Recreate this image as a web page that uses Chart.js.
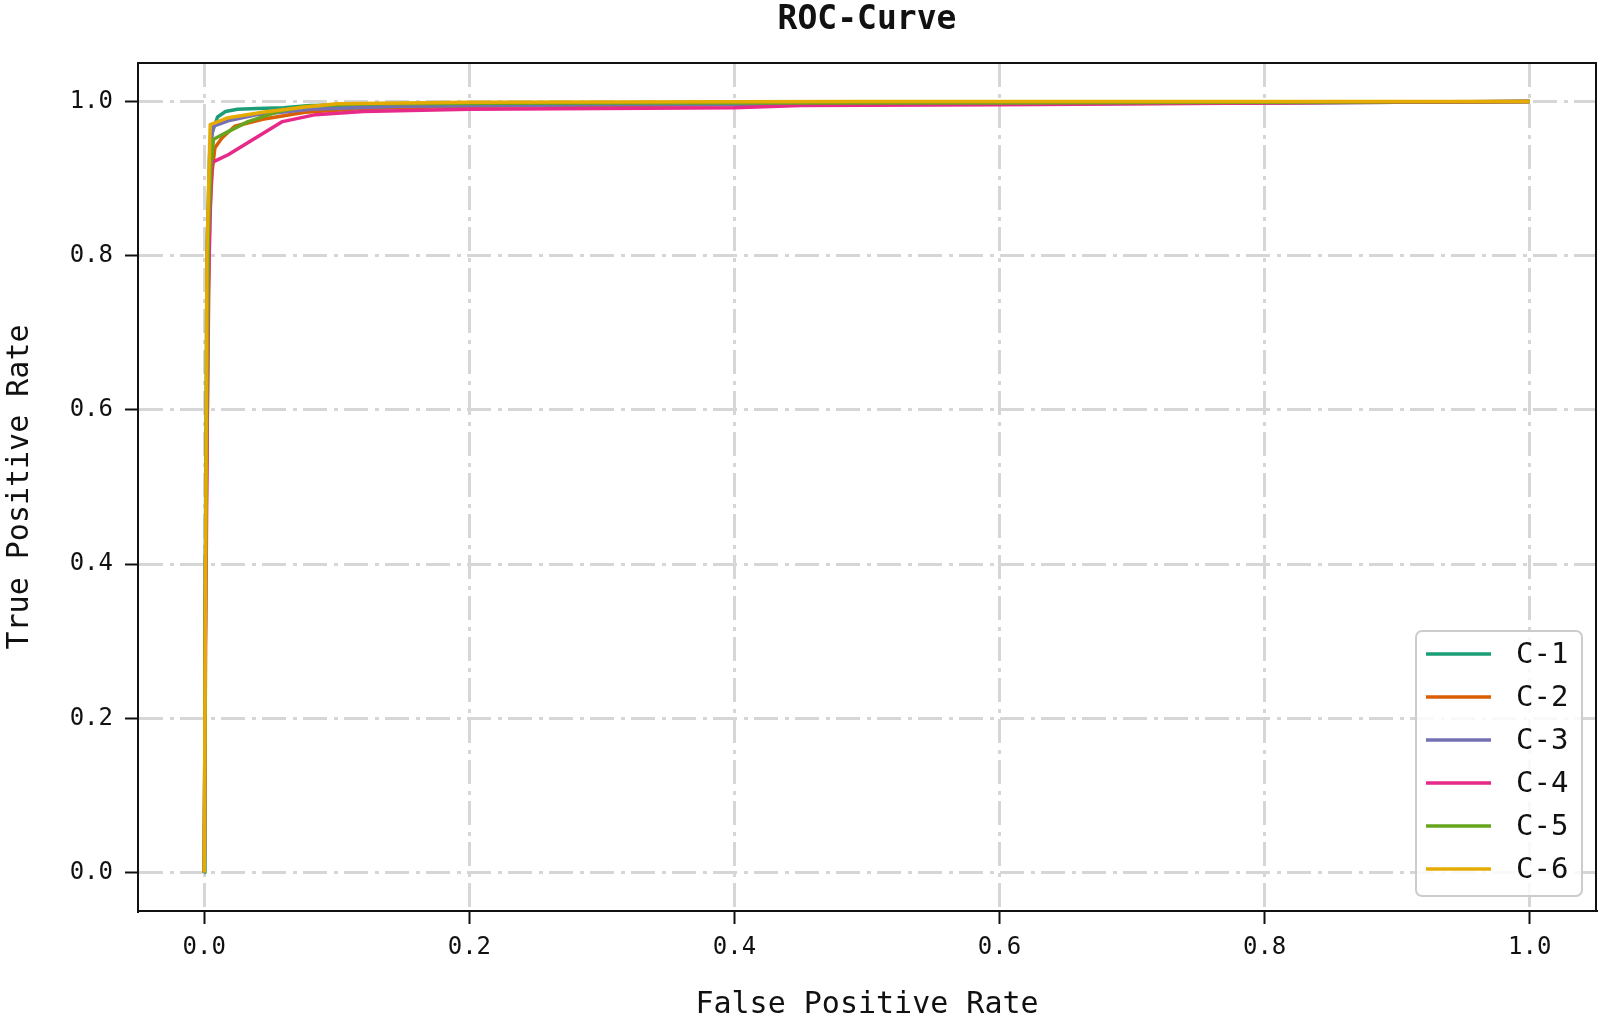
<!DOCTYPE html>
<html>
<head>
<meta charset="utf-8">
<script src="https://cdn.jsdelivr.net/npm/chart.js@4.4.1/dist/chart.umd.min.js"></script>
<style>
  html, body { margin: 0; padding: 0; background: #ffffff; }
  canvas { display: block; }
</style>
</head>
<body>
<canvas id="c" width="1604" height="1020"></canvas>
<script>
// ---- data ----
const seriesNames = ['C-1', 'C-2', 'C-3', 'C-4', 'C-5', 'C-6'];
const seriesColors = ['#1b9e77', '#d95f02', '#7570b3', '#e7298a', '#66a61e', '#e6ab02'];

const fpr1 = [0, 0.0005, 0.002, 0.004, 0.006, 0.010, 0.016, 0.025, 0.040, 0.060, 0.080, 0.150, 0.400, 0.600, 0.800, 1.0];
const tpr1 = [0, 0.30, 0.80, 0.93, 0.96, 0.980, 0.987, 0.990, 0.991, 0.992, 0.995, 0.996, 0.997, 0.997, 0.998, 1.0];

const fpr2 = [0, 0.001, 0.004, 0.006, 0.008, 0.0135, 0.023, 0.044, 0.076, 0.120, 0.200, 0.400, 0.700, 1.0];
const tpr2 = [0, 0.40, 0.85, 0.91, 0.940, 0.953, 0.968, 0.977, 0.986, 0.991, 0.994, 0.996, 0.998, 1.0];

const fpr3 = [0, 0.001, 0.003, 0.005, 0.007, 0.018, 0.040, 0.080, 0.150, 0.300, 0.600, 1.0];
const tpr3 = [0, 0.40, 0.85, 0.95, 0.968, 0.975, 0.983, 0.990, 0.994, 0.996, 0.997, 1.0];

const fpr4 = [0, 0.001, 0.003, 0.005, 0.006, 0.018, 0.059, 0.084, 0.120, 0.200, 0.400, 0.450, 0.600, 0.800, 1.0];
const tpr4 = [0, 0.30, 0.75, 0.89, 0.921, 0.931, 0.974, 0.983, 0.987, 0.990, 0.992, 0.995, 0.996, 0.998, 1.0];

const fpr5 = [0, 0.001, 0.003, 0.005, 0.007, 0.018, 0.033, 0.056, 0.076, 0.120, 0.300, 0.600, 1.0];
const tpr5 = [0, 0.40, 0.82, 0.92, 0.951, 0.961, 0.974, 0.987, 0.994, 0.997, 0.998, 0.998, 1.0];

const fpr6 = [0, 0.001, 0.002, 0.004, 0.0045, 0.018, 0.044, 0.076, 0.100, 0.200, 0.500, 1.0];
const tpr6 = [0, 0.40, 0.80, 0.94, 0.970, 0.979, 0.986, 0.993, 0.997, 0.999, 1.0, 1.0];

const xTicks = [0, 0.2, 0.4, 0.6, 0.8, 1.0];
const yTicks = [0, 0.2, 0.4, 0.6, 0.8, 1.0];
const xTickLabels = ['0.0', '0.2', '0.4', '0.6', '0.8', '1.0'];
const yTickLabels = ['0.0', '0.2', '0.4', '0.6', '0.8', '1.0'];

const titleText = 'ROC-Curve';
const xTitle = 'False Positive Rate';
const yTitle = 'True Positive Rate';

// ---- build datasets ----
const fprs = [fpr1, fpr2, fpr3, fpr4, fpr5, fpr6];
const tprs = [tpr1, tpr2, tpr3, tpr4, tpr5, tpr6];
const datasets = seriesNames.map((name, i) => ({
  label: name,
  data: fprs[i].map((x, k) => ({ x: x, y: tprs[i][k] })),
  borderColor: seriesColors[i],
  backgroundColor: seriesColors[i],
  borderWidth: 3.5,
  showLine: true,
  pointRadius: 0,
  pointHoverRadius: 0,
  tension: 0,
  borderJoinStyle: 'round',
  fill: false,
  order: seriesNames.length - i
}));

const MONO = '"DejaVu Sans Mono", "Liberation Mono", monospace';

const bgPlugin = {
  id: 'bg',
  beforeDraw(chart) {
    const ctx = chart.ctx;
    ctx.save();
    ctx.fillStyle = '#ffffff';
    ctx.fillRect(0, 0, chart.width, chart.height);
    ctx.restore();
  }
};

const framePlugin = {
  id: 'frame',
  afterDatasetsDraw(chart) {
    const a = chart.chartArea;
    const ctx = chart.ctx;
    ctx.save();
    ctx.strokeStyle = '#111111';
    ctx.lineWidth = 2;
    ctx.strokeRect(a.left, a.top, a.right - a.left, a.bottom - a.top);
    ctx.restore();
  }
};

const legendPlugin = {
  id: 'boxLegend',
  afterDraw(chart) {
    const ctx = chart.ctx;
    const a = chart.chartArea;
    const n = chart.data.datasets.length;
    const rowH = 43;
    const boxW = 166, boxH = 265;
    const bx = a.right - 14 - boxW;
    const by = a.bottom - 15 - boxH;
    ctx.save();
    ctx.beginPath();
    if (ctx.roundRect) ctx.roundRect(bx, by, boxW, boxH, 6); else ctx.rect(bx, by, boxW, boxH);
    ctx.fillStyle = 'rgba(255,255,255,0.85)';
    ctx.fill();
    ctx.strokeStyle = '#cccccc';
    ctx.lineWidth = 2;
    ctx.stroke();
    ctx.font = '29px ' + MONO;
    ctx.textBaseline = 'middle';
    ctx.textAlign = 'left';
    for (let i = 0; i < n; i++) {
      const ds = chart.data.datasets[i];
      const cy = by + 23 + i * rowH;
      ctx.beginPath();
      ctx.moveTo(bx + 10, cy);
      ctx.lineTo(bx + 75, cy);
      ctx.strokeStyle = ds.borderColor;
      ctx.lineWidth = 3.5;
      ctx.stroke();
      ctx.fillStyle = '#111111';
      ctx.fillText(ds.label, bx + 100, cy + 1);
    }
    ctx.restore();
  }
};

const gridColor = '#d6d6d6';

new Chart(document.getElementById('c'), {
  type: 'scatter',
  data: { datasets: datasets },
  plugins: [bgPlugin, framePlugin, legendPlugin],
  options: {
    responsive: false,
    animation: false,
    events: [],
    layout: { padding: { left: 0, right: 8, top: 0, bottom: 0 } },
    plugins: {
      legend: { display: false },
      tooltip: { enabled: false },
      title: {
        display: true,
        fullSize: false,
        text: titleText,
        color: '#111111',
        font: { family: MONO, size: 33, weight: 'bold', lineHeight: 1.0 },
        padding: { top: 4, bottom: 26 }
      }
    },
    scales: {
      x: {
        type: 'linear',
        min: -0.05,
        max: 1.05,
        afterBuildTicks(scale) { scale.ticks = xTicks.map(v => ({ value: v })); },
        afterFit(scale) { scale.height = 109; },
        ticks: {
          autoSkip: false,
          maxRotation: 0,
          padding: 9,
          color: '#111111',
          font: { family: MONO, size: 24 },
          callback(value) { const i = xTicks.indexOf(value); return i >= 0 ? xTickLabels[i] : ''; }
        },
        grid: {
          color: gridColor,
          lineWidth: 3,
          drawTicks: true,
          tickLength: 13,
          tickColor: '#111111',
          tickWidth: 2
        },
        border: { display: true, color: '#111111', width: 2, dash: [24, 7, 4, 6] },
        title: {
          display: true,
          text: xTitle,
          color: '#111111',
          font: { family: MONO, size: 30, lineHeight: 1.0 },
          padding: { top: 0, bottom: 0 }
        }
      },
      y: {
        type: 'linear',
        min: -0.05,
        max: 1.05,
        afterBuildTicks(scale) { scale.ticks = yTicks.map(v => ({ value: v })); },
        afterFit(scale) { scale.width = 138; },
        ticks: {
          autoSkip: false,
          padding: 12,
          color: '#111111',
          font: { family: MONO, size: 24 },
          callback(value) { const i = yTicks.indexOf(value); return i >= 0 ? yTickLabels[i] : ''; }
        },
        grid: {
          color: gridColor,
          lineWidth: 3,
          drawTicks: true,
          tickLength: 13,
          tickColor: '#111111',
          tickWidth: 2
        },
        border: { display: true, color: '#111111', width: 2, dash: [24, 7, 4, 6] },
        title: {
          display: true,
          text: yTitle,
          color: '#111111',
          font: { family: MONO, size: 30, lineHeight: 1.2 },
          padding: { top: 2, bottom: 0 }
        }
      }
    }
  }
});
</script>
</body>
</html>
